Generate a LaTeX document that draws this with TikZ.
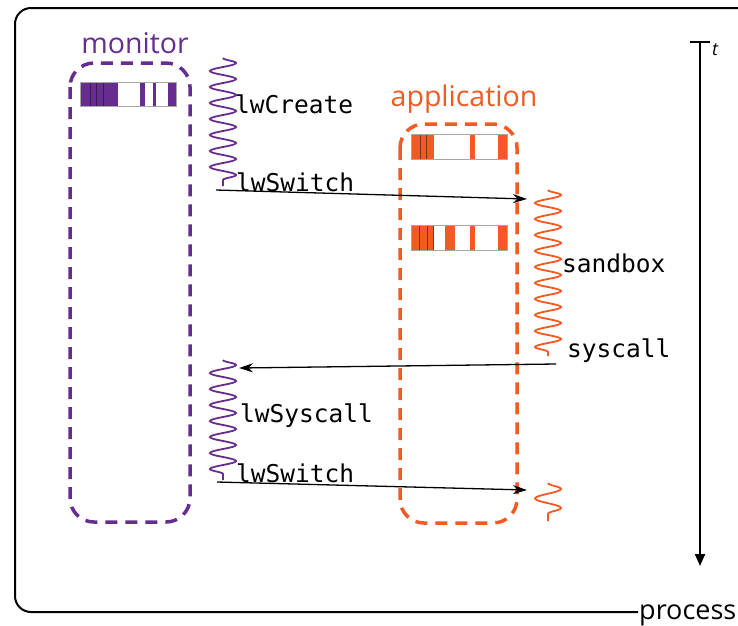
\documentclass[tikz,border=0pt]{standalone}
\usepackage{fontspec}
\setmainfont{Open Sans}
\newfontfamily\codefont{DejaVu Sans Mono}
\usetikzlibrary{decorations.pathmorphing,arrows.meta}
\definecolor{mpurple}{RGB}{102,45,145}
\definecolor{morange}{RGB}{241,90,36}
\tikzset{
  dashbox/.style={line width=3.5pt, dash pattern=on 12pt off 8pt, rounded corners=24pt},
  wave/.style={line width=1.8pt, decorate, decoration={snake, amplitude=13pt, segment length=16pt}},
  msg/.style={line width=1.3pt, -{Stealth[length=14pt,width=9pt]}},
  code/.style={font=\codefont\fontsize{24.5}{28}\selectfont, inner sep=0pt, anchor=west},
  title/.style={font=\fontsize{28.5}{30}\selectfont, inner sep=0pt, anchor=base},
  barframe/.style={draw=gray!70, line width=1pt},
}
\begin{document}
\begin{tikzpicture}[x=1pt,y=-1pt]
\useasboundingbox (0,0) rectangle (738,625);
% outer frame
\draw[line width=2pt, rounded corners=16pt] (745,8) -- (15,8) -- (15,612) -- (638,612);
\node[title, anchor=base west, font=\fontsize{27}{30}\selectfont] (proc) at (639,619) {process};
% time axis
\coordinate (ttop) at (700,42);
\coordinate (tbot) at (700,566);
\draw[line width=2pt] (690,42) -- (710,42);
\draw[line width=2pt, -{Triangle[length=12pt,width=10pt]}] (ttop) -- (tbot);
\node[font=\itshape\fontsize{18}{20}\selectfont, inner sep=0pt] (tl) at (715,50) {t};
% boxes
\draw[mpurple, dashbox] (70,63) rectangle (190,522);
\draw[morange, dashbox] (400,124) rectangle (517,523);
\node[title, text=mpurple] (mon) at (135,53) {monitor};
\node[title, text=morange] (app) at (464,106) {application};
% monitor bar
\fill[mpurple] (80,82) rectangle (118,106);
\fill[mpurple] (140,82) rectangle (144.5,106);
\fill[mpurple] (152.5,82) rectangle (156,106);
\fill[mpurple] (168,82) rectangle (176.5,106);
\draw[mpurple!55!black, line width=0.6pt] (90,82) -- (90,106) (96.7,82) -- (96.7,106) (103.3,82) -- (103.3,106);
\draw[barframe] (80,82) rectangle (176.5,106);
% app bar 1
\fill[morange] (411,134) rectangle (434,159);
\fill[morange] (470,134) rectangle (475,159);
\fill[morange] (498,134) rectangle (507,159);
\draw[morange!55!black, line width=0.6pt] (420,134) -- (420,159) (426.7,134) -- (426.7,159);
\draw[barframe] (411,134) rectangle (507,159);
% app bar 2
\fill[morange] (411,225) rectangle (434,250);
\fill[morange] (444.5,225) rectangle (455,250);
\fill[morange] (470,225) rectangle (475,250);
\fill[morange] (498,225) rectangle (507,250);
\draw[morange!55!black, line width=0.6pt] (419.5,225) -- (419.5,250) (427.5,225) -- (427.5,250) (433,225) -- (433,250);
\draw[barframe] (411,225) rectangle (507,250);
% waves
\coordinate (mw1a) at (223,58);
\coordinate (mw1b) at (223,186);
\coordinate (ow1a) at (548,190);
\coordinate (ow1b) at (548,356);
\coordinate (mw2a) at (223,360);
\coordinate (mw2b) at (223,480);
\coordinate (ow2a) at (548,483);
\coordinate (ow2b) at (548,521);
\draw[mpurple, wave] (mw1a) -- (mw1b);
\draw[morange, wave] (ow1a) -- (ow1b);
\draw[mpurple, wave] (mw2a) -- (mw2b);
\draw[morange, wave, decoration={snake, amplitude=13pt, segment length=19pt}] (ow2a) -- (ow2b);
% labels
\node[code] (lc) at (235,104) {lwCreate};
\node[code] (ls1) at (236,182) {lwSwitch};
\node[code] (sb) at (562,263) {sandbox};
\node[code] (sc) at (567,351) {syscall};
\node[code] (lsc) at (240,416) {lwSyscall};
\node[code] (ls2) at (236,473) {lwSwitch};
% messages
\coordinate (a1s) at (216,190);
\coordinate (a1e) at (527,199);
\coordinate (a2s) at (556,364);
\coordinate (a2e) at (239,368);
\coordinate (a3s) at (217,482);
\coordinate (a3e) at (527,490);
\draw[msg] (a1s) -- (a1e);
\draw[msg] (a2s) -- (a2e);
\draw[msg] (a3s) -- (a3e);
\end{tikzpicture}
\end{document}
